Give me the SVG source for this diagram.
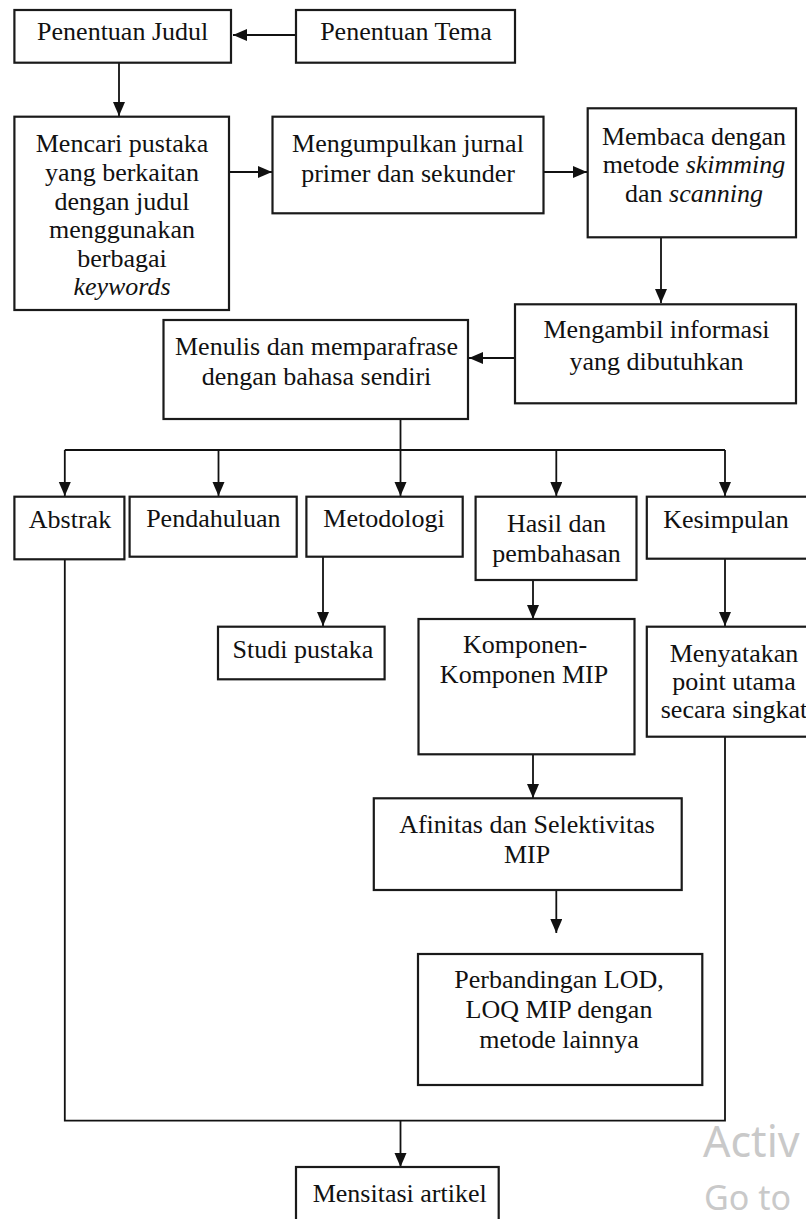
<svg xmlns="http://www.w3.org/2000/svg" width="806" height="1219" viewBox="0 0 806 1219">
<style>
.box{fill:#fff;stroke:#1a1a1a;stroke-width:2.2}
.t{font-family:"Liberation Serif","Times New Roman",serif;font-size:26px;fill:#111;text-anchor:middle}
.i{font-style:italic}
.c{fill:none;stroke:#111;stroke-width:1.8}
.wm{font-family:"Noto Sans","Open Sans",sans-serif;fill:#c9c9c9}
</style>
<defs>
<marker id="ah" markerUnits="userSpaceOnUse" markerWidth="14" markerHeight="13" refX="14" refY="6" orient="auto">
<path d="M0,0 L14,6 L0,12 z" fill="#111"/>
</marker>
</defs>
<rect width="806" height="1219" fill="#fff"/>
<g id="connectors">
<path class="c" d="M296,35 H233" marker-end="url(#ah)"/>
<path class="c" d="M119,63 V116" marker-end="url(#ah)"/>
<path class="c" d="M229,172 H272" marker-end="url(#ah)"/>
<path class="c" d="M543.5,172 H587" marker-end="url(#ah)"/>
<path class="c" d="M661,237 V303" marker-end="url(#ah)"/>
<path class="c" d="M515,358 H469" marker-end="url(#ah)"/>
<path class="c" d="M400.5,419 V450 M64.8,450 H725"/>
<path class="c" d="M64.8,450 V496" marker-end="url(#ah)"/>
<path class="c" d="M218.5,450 V496" marker-end="url(#ah)"/>
<path class="c" d="M400.5,450 V496" marker-end="url(#ah)"/>
<path class="c" d="M556.3,450 V496" marker-end="url(#ah)"/>
<path class="c" d="M725,450 V496" marker-end="url(#ah)"/>
<path class="c" d="M323,557 V626" marker-end="url(#ah)"/>
<path class="c" d="M533,580 V619" marker-end="url(#ah)"/>
<path class="c" d="M725,559 V626" marker-end="url(#ah)"/>
<path class="c" d="M533,754 V798" marker-end="url(#ah)"/>
<path class="c" d="M556.3,890 V933" marker-end="url(#ah)"/>
<path class="c" d="M64.8,559 V1120.7 H725 V737"/>
<path class="c" d="M400.5,1120.7 V1167" marker-end="url(#ah)"/>
</g>
<g id="n-judul"><rect class="box" x="14.4" y="10" width="216.6" height="52.7"/><text class="t" x="122.7" y="40">Penentuan Judul</text></g>
<g id="n-tema"><rect class="box" x="296" y="10" width="219" height="52.7"/><text class="t" x="406" y="40">Penentuan Tema</text></g>
<g id="n-mencari"><rect class="box" x="14.4" y="116.7" width="214.6" height="193.3"/>
<text class="t" x="122" y="151.7">Mencari pustaka</text>
<text class="t" x="122" y="181">yang berkaitan</text>
<text class="t" x="122" y="210">dengan judul</text>
<text class="t" x="122" y="238.3">menggunakan</text>
<text class="t" x="122" y="266.7">berbagai</text>
<text class="t i" x="122" y="295">keywords</text></g>
<g id="n-mengumpulkan"><rect class="box" x="272.5" y="116.7" width="271" height="96.6"/>
<text class="t" x="408" y="151.7">Mengumpulkan jurnal</text>
<text class="t" x="408" y="181.7">primer dan sekunder</text></g>
<g id="n-membaca"><rect class="box" x="587.7" y="108.3" width="208.3" height="129"/>
<text class="t" x="694" y="145">Membaca dengan</text>
<text class="t" x="694" y="173.3">metode <tspan class="i">skimming</tspan></text>
<text class="t" x="694" y="201.7">dan <tspan class="i">scanning</tspan></text></g>
<g id="n-mengambil"><rect class="box" x="515" y="304.3" width="281" height="99"/>
<text class="t" x="656.5" y="338.3">Mengambil informasi</text>
<text class="t" x="656.5" y="370">yang dibutuhkan</text></g>
<g id="n-menulis"><rect class="box" x="163.5" y="320" width="304.5" height="99"/>
<text class="t" x="316.5" y="355">Menulis dan memparafrase</text>
<text class="t" x="316.5" y="385">dengan bahasa sendiri</text></g>
<g id="n-abstrak"><rect class="box" x="14.4" y="496.7" width="110" height="62.6"/><text class="t" x="70" y="528.3">Abstrak</text></g>
<g id="n-pendahuluan"><rect class="box" x="129.6" y="496.7" width="167.1" height="60"/><text class="t" x="213.3" y="526.7">Pendahuluan</text></g>
<g id="n-metodologi"><rect class="box" x="306.4" y="496.7" width="156.3" height="60"/><text class="t" x="384" y="526.7">Metodologi</text></g>
<g id="n-hasil"><rect class="box" x="475.6" y="496.7" width="160.9" height="83.3"/>
<text class="t" x="556.5" y="531.7">Hasil dan</text>
<text class="t" x="556.5" y="561.7">pembahasan</text></g>
<g id="n-kesimpulan"><rect class="box" x="646.8" y="496.7" width="170" height="62"/><text class="t" x="726" y="528.3">Kesimpulan</text></g>
<g id="n-studi"><rect class="box" x="218" y="626.7" width="166.6" height="52.6"/><text class="t" x="303" y="658.3">Studi pustaka</text></g>
<g id="n-komponen"><rect class="box" x="418.5" y="619" width="216" height="135.3"/>
<text class="t" x="525" y="653.3">Komponen-</text>
<text class="t" x="524" y="683.3">Komponen MIP</text></g>
<g id="n-menyatakan"><rect class="box" x="646.8" y="626.7" width="180" height="110"/>
<text class="t" x="734" y="661.7">Menyatakan</text>
<text class="t" x="734" y="690">point utama</text>
<text class="t" x="734" y="718.3">secara singkat</text></g>
<g id="n-afinitas"><rect class="box" x="373.8" y="798.3" width="307.9" height="91.7"/>
<text class="t" x="527" y="833.3">Afinitas dan Selektivitas</text>
<text class="t" x="527" y="863.3">MIP</text></g>
<g id="n-perbandingan"><rect class="box" x="418" y="954" width="284.3" height="131"/>
<text class="t" x="559" y="988.3">Perbandingan LOD,</text>
<text class="t" x="559" y="1017.5">LOQ MIP dengan</text>
<text class="t" x="559" y="1047.5">metode lainnya</text></g>
<g id="n-mensitasi"><rect class="box" x="296" y="1167" width="202.7" height="70"/><text class="t" x="399.7" y="1201.7">Mensitasi artikel</text></g>
<g id="watermark">
<text class="wm" x="703" y="1157" font-size="43">Activ</text>
<text class="wm" x="704" y="1210" font-size="34">Go to</text>
</g>
</svg>
